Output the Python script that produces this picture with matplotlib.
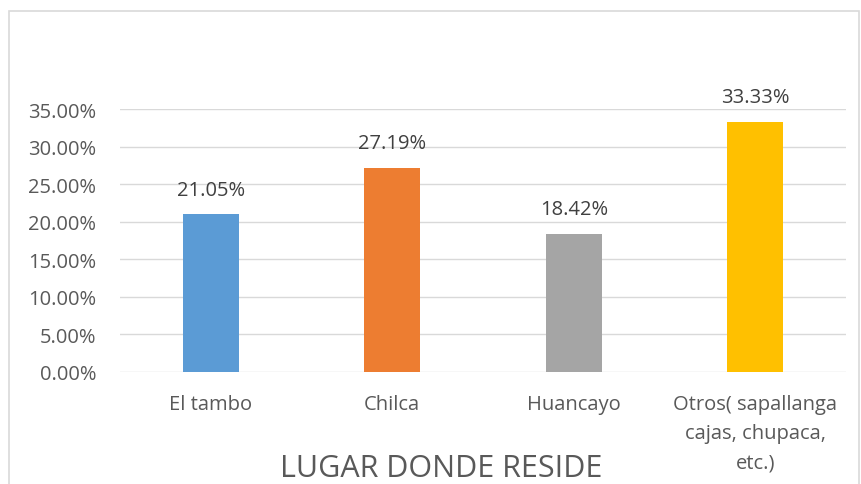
import numpy as np
import matplotlib.pyplot as plt
from matplotlib.patches import Rectangle

categorias = ['El tambo', 'Chilca', 'Huancayo', 'Otros( sapallanga\ncajas, chupaca,\netc.)']
valores = [21.05, 27.19, 18.42, 33.33]
colores = ['#5B9BD5', '#ED7D31', '#A5A5A5', '#FFC000']
ticks = np.arange(0, 36, 5)

plt.rcParams['font.family'] = ['Open Sans', 'DejaVu Sans']

fig = plt.figure(figsize=(8.61, 4.85), dpi=100)
fig.patches.append(Rectangle((9 / 861, -0.1), 850 / 861, 1.1 - 12 / 485, transform=fig.transFigure,
                             fill=False, edgecolor='#D9D9D9', linewidth=1.2))
ax = fig.add_axes([120 / 861, (485 - 373) / 485, 726 / 861, 263 / 485])

x = np.arange(len(categorias))
ax.bar(x, valores, width=0.31, color=colores, zorder=3)
for xi, v in zip(x, valores):
    ax.text(xi, v + 1.9, f'{v:.2f}%', ha='center', va='bottom', fontsize=14.5, color='#404040')

ax.set_xlim(-0.5, len(categorias) - 0.5)
ax.set_ylim(0, 35)
ax.set_yticks(ticks)
ax.set_yticklabels([f'{t:.2f}%' for t in ticks])
ax.set_xticks(x)
ax.set_xticklabels(categorias, linespacing=1.6)
ax.tick_params(axis='both', length=0, labelsize=14.5, labelcolor='#595959')
ax.tick_params(axis='y', pad=17)
ax.tick_params(axis='x', pad=16)
ax.grid(axis='y', color='#D9D9D9', linewidth=1, zorder=0)
for s in ax.spines.values():
    s.set_visible(False)

fig.text(441 / 861, 1 - 469 / 485, 'LUGAR DONDE RESIDE', ha='center', va='center',
         fontsize=22, color='#595959')

fig.savefig('out.png', dpi=100)
